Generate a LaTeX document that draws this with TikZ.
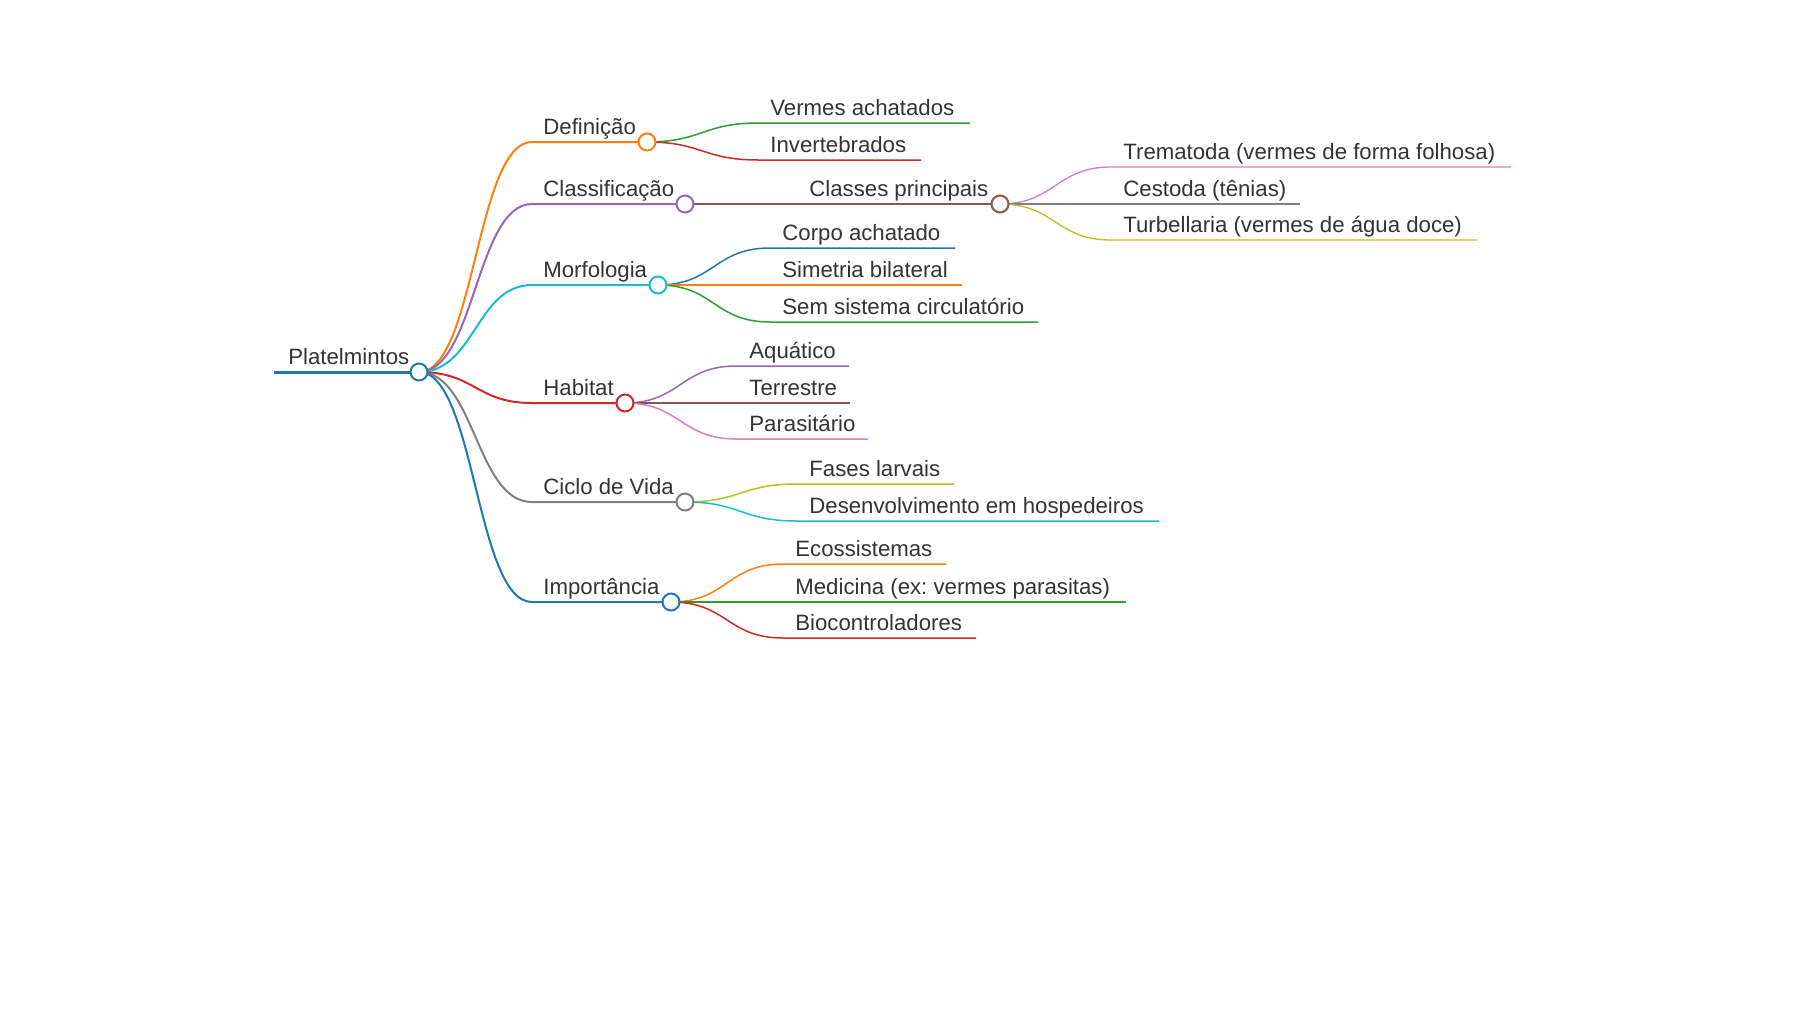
\documentclass[tikz,border=0pt]{standalone}
\usepackage{fontspec}
\setmainfont{Liberation Sans}
\frenchspacing
\definecolor{cOr}{HTML}{FF7F0E}
\definecolor{cPu}{HTML}{9467BD}
\definecolor{cCy}{HTML}{17BECF}
\definecolor{cRe}{HTML}{D62728}
\definecolor{cGy}{HTML}{7F7F7F}
\definecolor{cBl}{HTML}{1F77B4}
\definecolor{cGr}{HTML}{2CA02C}
\definecolor{cBr}{HTML}{8C564B}
\definecolor{cPi}{HTML}{E377C2}
\definecolor{cOl}{HTML}{BCBD22}
\definecolor{txt}{HTML}{333333}
\tikzset{
  lbl/.style={anchor=base west, inner sep=0pt, text=txt, font=\fontsize{11.1}{13}\selectfont},
  dot/.style={circle, draw=#1, fill=white, line width=1pt, minimum size=8.5pt, inner sep=0pt},
  w0/.style={line width=1.5pt},
  w1/.style={line width=1pt},
  w2/.style={line width=0.75pt},
  w3/.style={line width=0.65pt},
}
\begin{document}
\begin{tikzpicture}[x=0.5pt,y=-0.5pt]
\useasboundingbox (0,0) rectangle (1800,1012);
% ---- coordinates ----
\coordinate (Rs) at (274,372);
\coordinate (Ds) at (532,142);
\coordinate (Cs) at (532,204);
\coordinate (Ms) at (532,285);
\coordinate (Hs) at (532,403);
\coordinate (Vs) at (532,502);
\coordinate (Is) at (532,602);
\coordinate (D1s) at (758,123); \coordinate (D1e) at (970,123);
\coordinate (D2s) at (758,160); \coordinate (D2e) at (921,160);
\coordinate (C1s) at (792,204);
\coordinate (M1s) at (770,248); \coordinate (M1e) at (955,248);
\coordinate (M2s) at (770,285); \coordinate (M2e) at (962,285);
\coordinate (M3s) at (770,322); \coordinate (M3e) at (1038,322);
\coordinate (H1s) at (736,366); \coordinate (H1e) at (849,366);
\coordinate (H2s) at (736,403); \coordinate (H2e) at (850,403);
\coordinate (H3s) at (736,439); \coordinate (H3e) at (868,439);
\coordinate (V1s) at (797,484); \coordinate (V1e) at (954,484);
\coordinate (V2s) at (797,521); \coordinate (V2e) at (1159,521);
\coordinate (I1s) at (783,564); \coordinate (I1e) at (946,564);
\coordinate (I2s) at (783,602); \coordinate (I2e) at (1126,602);
\coordinate (I3s) at (783,638); \coordinate (I3e) at (976,638);
\coordinate (T1s) at (1111,167); \coordinate (T1e) at (1511,167);
\coordinate (T2s) at (1111,204); \coordinate (T2e) at (1300,204);
\coordinate (T3s) at (1111,240); \coordinate (T3e) at (1477,240);
\coordinate (Rp) at (419,372);
\coordinate (Dp) at (647,142);
\coordinate (Cp) at (685,204);
\coordinate (Mp) at (658,285);
\coordinate (Hp) at (625,403);
\coordinate (Vp) at (685,502);
\coordinate (Ip) at (671,602);
\coordinate (C1p) at (1000,204);
% ---- level 3 links ----
\draw[w3,cPi] (C1p) .. controls +(55,0) and +(-55,0) .. (T1s) -- (T1e);
\draw[w3,cGy] (C1p) -- (T2s) -- (T2e);
\draw[w3,cOl] (C1p) .. controls +(55,0) and +(-55,0) .. (T3s) -- (T3e);
% ---- level 2 links ----
\draw[w2,cGr] (Dp) .. controls +(55,0) and +(-55,0) .. (D1s) -- (D1e);
\draw[w2,cRe] (Dp) .. controls +(55,0) and +(-55,0) .. (D2s) -- (D2e);
\draw[w2,cBr] (Cp) -- (C1s) -- (C1p);
\draw[w2,cBl] (Mp) .. controls +(56,0) and +(-56,0) .. (M1s) -- (M1e);
\draw[w2,cOr] (Mp) -- (M2s) -- (M2e);
\draw[w2,cGr] (Mp) .. controls +(56,0) and +(-56,0) .. (M3s) -- (M3e);
\draw[w2,cPu] (Hp) .. controls +(55,0) and +(-55,0) .. (H1s) -- (H1e);
\draw[w2,cBr] (Hp) -- (H2s) -- (H2e);
\draw[w2,cPi] (Hp) .. controls +(55,0) and +(-55,0) .. (H3s) -- (H3e);
\draw[w2,cOl] (Vp) .. controls +(56,0) and +(-56,0) .. (V1s) -- (V1e);
\draw[w2,cCy] (Vp) .. controls +(56,0) and +(-56,0) .. (V2s) -- (V2e);
\draw[w2,cOr] (Ip) .. controls +(56,0) and +(-56,0) .. (I1s) -- (I1e);
\draw[w2,cGr] (Ip) -- (I2s) -- (I2e);
\draw[w2,cRe] (Ip) .. controls +(56,0) and +(-56,0) .. (I3s) -- (I3e);
% ---- level 1 links ----
\draw[w1,cOr] (Rp) .. controls +(56,0) and +(-56,0) .. (Ds) -- (Dp);
\draw[w1,cPu] (Rp) .. controls +(56,0) and +(-56,0) .. (Cs) -- (Cp);
\draw[w1,cCy] (Rp) .. controls +(56,0) and +(-56,0) .. (Ms) -- (Mp);
\draw[w1,cRe] (Rp) .. controls +(56,0) and +(-56,0) .. (Hs) -- (Hp);
\draw[w1,cGy] (Rp) .. controls +(56,0) and +(-56,0) .. (Vs) -- (Vp);
\draw[w1,cBl] (Rp) .. controls +(56,0) and +(-56,0) .. (Is) -- (Ip);
% ---- root line ----
\draw[w0,cBl] (Rs) -- (Rp);
% ---- circles ----
\node[dot=cBl] (R) at (Rp) {};
\node[dot=cOr] (D) at (Dp) {};
\node[dot=cPu] (C) at (Cp) {};
\node[dot=cCy] (M) at (Mp) {};
\node[dot=cRe] (H) at (Hp) {};
\node[dot=cGy] (V) at (Vp) {};
\node[dot=cBl] (I) at (Ip) {};
\node[dot=cBr] (C1) at (C1p) {};
% ---- labels ----
\node[lbl] (Rl) at (288,364) {Platelmintos};
\node[lbl] (Dl) at (543,134) {Definição};
\node[lbl] (Cl) at (543,196) {Classificação};
\node[lbl] (Ml) at (543,277) {Morfologia};
\node[lbl] (Hl) at (543,395) {Habitat};
\node[lbl] (Vl) at (543,494) {Ciclo de Vida};
\node[lbl] (Il) at (543,594) {Importância};
\node[lbl] (D1l) at (770,115) {Vermes achatados};
\node[lbl] (D2l) at (770,152) {Invertebrados};
\node[lbl] (C1l) at (809,196) {Classes principais};
\node[lbl] (M1l) at (782,240) {Corpo achatado};
\node[lbl] (M2l) at (782,277) {Simetria bilateral};
\node[lbl] (M3l) at (782,314) {Sem sistema circulatório};
\node[lbl] (H1l) at (749,358) {Aquático};
\node[lbl] (H2l) at (749,395) {Terrestre};
\node[lbl] (H3l) at (749,431) {Parasitário};
\node[lbl] (V1l) at (809,476) {Fases larvais};
\node[lbl] (V2l) at (809,513) {Desenvolvimento em hospedeiros};
\node[lbl] (I1l) at (795,556) {Ecossistemas};
\node[lbl] (I2l) at (795,594) {Medicina (ex: vermes parasitas)};
\node[lbl] (I3l) at (795,630) {Biocontroladores};
\node[lbl] (T1l) at (1123,159) {Trematoda (vermes de forma folhosa)};
\node[lbl] (T2l) at (1123,196) {Cestoda (tênias)};
\node[lbl] (T3l) at (1123,232) {Turbellaria (vermes de água doce)};
\end{tikzpicture}
\end{document}
